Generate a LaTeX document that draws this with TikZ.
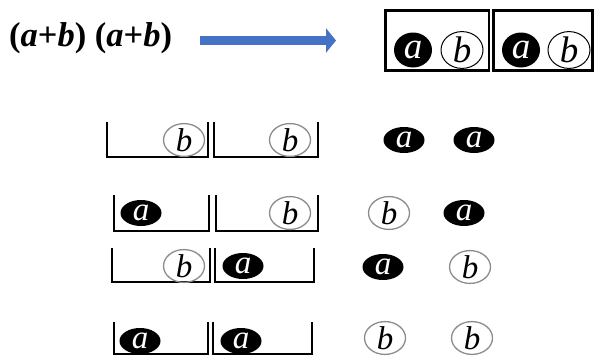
\documentclass[tikz,border=0pt]{standalone}
\usepackage{fontspec}
\setmainfont{Liberation Serif}
\usetikzlibrary{shapes.geometric,arrows.meta}
\definecolor{arrowblue}{RGB}{68,114,196}
\tikzset{
  ball/.style={ellipse, inner sep=0pt, minimum width=41pt, minimum height=26pt,
    font=\fontsize{33}{35}\selectfont\itshape},
  aball/.style={ball, fill=black, text=white},
  bball/.style={ball, draw=black!45, line width=1.3pt},
  bigball/.style={minimum width=38pt, minimum height=35pt, font=\fontsize{37}{39}\selectfont\itshape},
  basket/.style={line width=2.2pt, line join=miter},
}

\begin{document}
\begin{tikzpicture}[x=1pt, y=-1pt]
  \useasboundingbox (0,0) rectangle (594,356);

  \node[anchor=west, inner sep=0pt, font=\fontsize{34.5}{38}\selectfont\bfseries] (expr) at (9,38)
    {(\textit{a}+\textit{b}) (\textit{a}+\textit{b})};
  \coordinate (arrS) at (200,40.5);
  \coordinate (arrE) at (336,40.5);
  \draw[arrowblue, line width=9.5pt, -{Triangle[length=10pt, width=24pt]}] (arrS) -- (arrE);

  % the two boxes
  \draw[line width=2.5pt] (385.5,10.5) rectangle (489,70.5);
  \draw[line width=2.5pt] (493.5,10.5) rectangle (592.5,70.5);
  \node[aball, bigball] (t1a) at (413,50) {a};
  \node[bball, bigball, draw=black, line width=1pt, minimum width=42pt] (t1b) at (462,50) {b};
  \node[aball, bigball] (t2a) at (521,50) {a};
  \node[bball, bigball, draw=black, line width=1pt, minimum width=42pt] (t2b) at (569,50) {b};

  % baskets
  \draw[basket] (107,122) -- (107,157) -- (208,157) -- (208,122);
  \draw[basket] (214,122) -- (214,157) -- (318,157) -- (318,122);
  \draw[basket] (114,195) -- (114,231) -- (209,231) -- (209,195);
  \draw[basket] (216,195) -- (216,231) -- (318,231) -- (318,195);
  \draw[basket] (112,248) -- (112,282) -- (210,282) -- (210,248);
  \draw[basket] (215,248) -- (215,282) -- (314,282) -- (314,248);
  \draw[basket] (114,322) -- (114,354) -- (208,354) -- (208,322);
  \draw[basket] (213,322) -- (213,354) -- (312,354) -- (312,322);

  \node[bball] (r1l) at (184,140) {b};
  \node[bball] (r1r) at (290,140) {b};
  \node[aball] (r1x) at (404,140) {a};
  \node[aball] (r1y) at (474,140) {a};

  \node[aball] (r2l) at (141,213) {a};
  \node[bball] (r2r) at (290,213) {b};
  \node[bball] (r2x) at (389,213) {b};
  \node[aball] (r2y) at (464,213) {a};

  \node[bball] (r3l) at (184,266) {b};
  \node[aball] (r3r) at (243,266) {a};
  \node[aball] (r3x) at (383,267) {a};
  \node[bball] (r3y) at (470,267) {b};

  \node[aball] (r4l) at (140,341) {a};
  \node[aball] (r4r) at (241,341) {a};
  \node[bball] (r4x) at (385,338) {b};
  \node[bball] (r4y) at (472,338) {b};
\end{tikzpicture}
\end{document}
